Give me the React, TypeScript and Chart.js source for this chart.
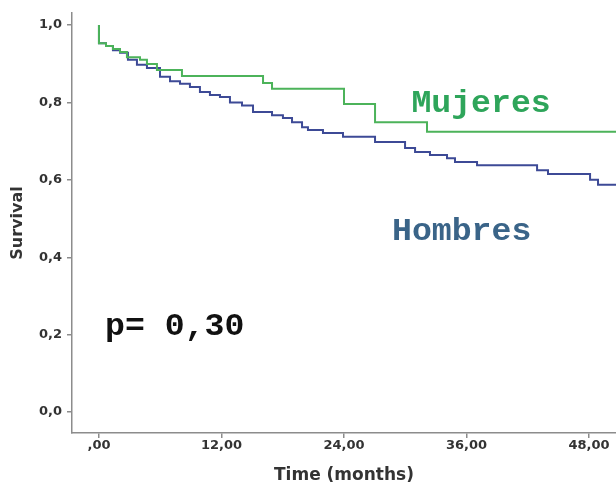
import React, { useEffect, useRef } from "react";
import { Chart, registerables } from "chart.js";

Chart.register(...registerables);

// ---- data ----
const xTicks = [0, 12, 24, 36, 48];
const xTickLabels = [",00", "12,00", "24,00", "36,00", "48,00"];
const yTicks = [0, 0.2, 0.4, 0.6, 0.8, 1.0];
const yTickLabels = ["0,0", "0,2", "0,4", "0,6", "0,8", "1,0"];

const mujeresTime = [0, 0, 0.69, 1.37, 2.06, 2.74, 4.02, 4.7, 5.68, 8.13, 16.07, 16.95, 24.0, 27.04, 32.13, 50.64];
const mujeresSurv = [1.0, 0.953, 0.946, 0.938, 0.93, 0.917, 0.91, 0.899, 0.884, 0.868, 0.85, 0.835, 0.796, 0.749, 0.724, 0.724];

const hombresTime = [0, 0, 0.69, 1.37, 2.06, 2.84, 3.72, 4.7, 5.98, 6.96, 7.94, 8.91, 9.89, 10.87, 11.85, 12.83, 14.01, 15.09, 16.95, 18.02, 18.91, 19.89, 20.47, 21.94, 23.9, 27.04, 29.98, 30.96, 32.42, 34.09, 34.87, 37.03, 42.91, 43.98, 48.1, 48.88, 50.64];
const hombresSurv = [1.0, 0.953, 0.946, 0.935, 0.928, 0.91, 0.897, 0.889, 0.866, 0.855, 0.848, 0.84, 0.827, 0.819, 0.814, 0.8, 0.792, 0.775, 0.767, 0.76, 0.749, 0.736, 0.729, 0.721, 0.711, 0.698, 0.682, 0.672, 0.664, 0.656, 0.646, 0.638, 0.625, 0.615, 0.6, 0.587, 0.587];

const annotationTexts = ["Mujeres", "Hombres", "p= 0,30"];
const annotationX = [30.6, 28.7, 0.6];
const annotationY = [0.796, 0.466, 0.22];
const annotationColors = ["#2ea55a", "#3a6488", "#111111"];

const X_MIN = -2.64;
const X_MAX = 50.64;
const Y_MIN = -0.054;
const Y_MAX = 1.031;

const AXIS_COLOR = "#8c8c8c";
const FONT_FAMILY = "'DejaVu Sans', Verdana, sans-serif";
const TICK_FONT = { family: FONT_FAMILY, size: 13, weight: "bold" as const };

const textPlugin = {
  id: "kmText",
  afterDatasetsDraw(chart: any) {
    const { ctx, scales } = chart;
    ctx.save();
    ctx.font = "bold 31px 'Liberation Mono', 'Courier New', monospace";
    ctx.textAlign = "left";
    ctx.textBaseline = "middle";
    annotationTexts.forEach((t, i) => {
      const px = scales.x.getPixelForValue(annotationX[i]);
      const py = scales.y.getPixelForValue(annotationY[i]);
      ctx.save();
      ctx.translate(px, py);
      ctx.scale(1.07, 1);
      ctx.fillStyle = annotationColors[i];
      ctx.fillText(t, 0, 0);
      ctx.restore();
    });
    ctx.restore();
  },
};

export default function App() {
  const ref = useRef<HTMLCanvasElement | null>(null);

  useEffect(() => {
    document.body.style.margin = "0";
    const canvas = ref.current;
    if (!canvas) return;
    const chart = new Chart(canvas, {
      type: "line",
      data: {
        datasets: [
          {
            label: "Mujeres",
            data: mujeresTime.map((t, i) => ({ x: t, y: mujeresSurv[i] })),
            borderColor: "#4cb35a",
            borderWidth: 2,
            stepped: true,
            pointRadius: 0,
            fill: false,
          },
          {
            label: "Hombres",
            data: hombresTime.map((t, i) => ({ x: t, y: hombresSurv[i] })),
            borderColor: "#3d4a96",
            borderWidth: 2,
            stepped: true,
            pointRadius: 0,
            fill: false,
          },
        ],
      },
      options: {
        animation: false,
        responsive: false,
        devicePixelRatio: 1,
        layout: { padding: { top: 13, right: 0, left: 0, bottom: 0 } },
        plugins: { legend: { display: false }, tooltip: { enabled: false } },
        scales: {
          x: {
            type: "linear",
            min: X_MIN,
            max: X_MAX,
            afterBuildTicks: (s: any) => {
              s.ticks = xTicks.map((v) => ({ value: v }));
            },
            afterFit: (s: any) => {
              s.height = 55;
            },
            border: { display: true, color: AXIS_COLOR, width: 1.5 },
            grid: { display: true, drawOnChartArea: false, drawTicks: true, tickLength: 5, color: AXIS_COLOR, lineWidth: 1.5 },
            ticks: {
              autoSkip: false,
              maxRotation: 0,
              padding: 0,
              color: "#333333",
              font: TICK_FONT,
              callback: (v: any) => xTickLabels[xTicks.indexOf(v)] ?? "",
            },
            title: {
              display: true,
              text: "Time (months)",
              color: "#333333",
              font: { family: FONT_FAMILY, size: 17, weight: "bold" },
              padding: { top: 2, bottom: 2 },
            },
          },
          y: {
            type: "linear",
            min: Y_MIN,
            max: Y_MAX,
            afterBuildTicks: (s: any) => {
              s.ticks = yTicks.map((v) => ({ value: v }));
            },
            afterFit: (s: any) => {
              s.width = 72;
            },
            border: { display: true, color: AXIS_COLOR, width: 1.5 },
            grid: { display: true, drawOnChartArea: false, drawTicks: true, tickLength: 5, color: AXIS_COLOR, lineWidth: 1.5 },
            ticks: {
              padding: 5,
              color: "#333333",
              font: TICK_FONT,
              callback: (v: any) => yTickLabels[yTicks.indexOf(v)] ?? "",
            },
            title: {
              display: true,
              text: "Survival",
              color: "#333333",
              font: { family: FONT_FAMILY, size: 16, weight: "bold" },
              padding: { top: 8, bottom: 0 },
            },
          },
        },
      },
      plugins: [textPlugin],
    });
    return () => chart.destroy();
  }, []);

  return (
    <div style={{ width: 616, height: 488, background: "#ffffff" }}>
      <canvas ref={ref} width={616} height={488} style={{ display: "block" }} />
    </div>
  );
}
